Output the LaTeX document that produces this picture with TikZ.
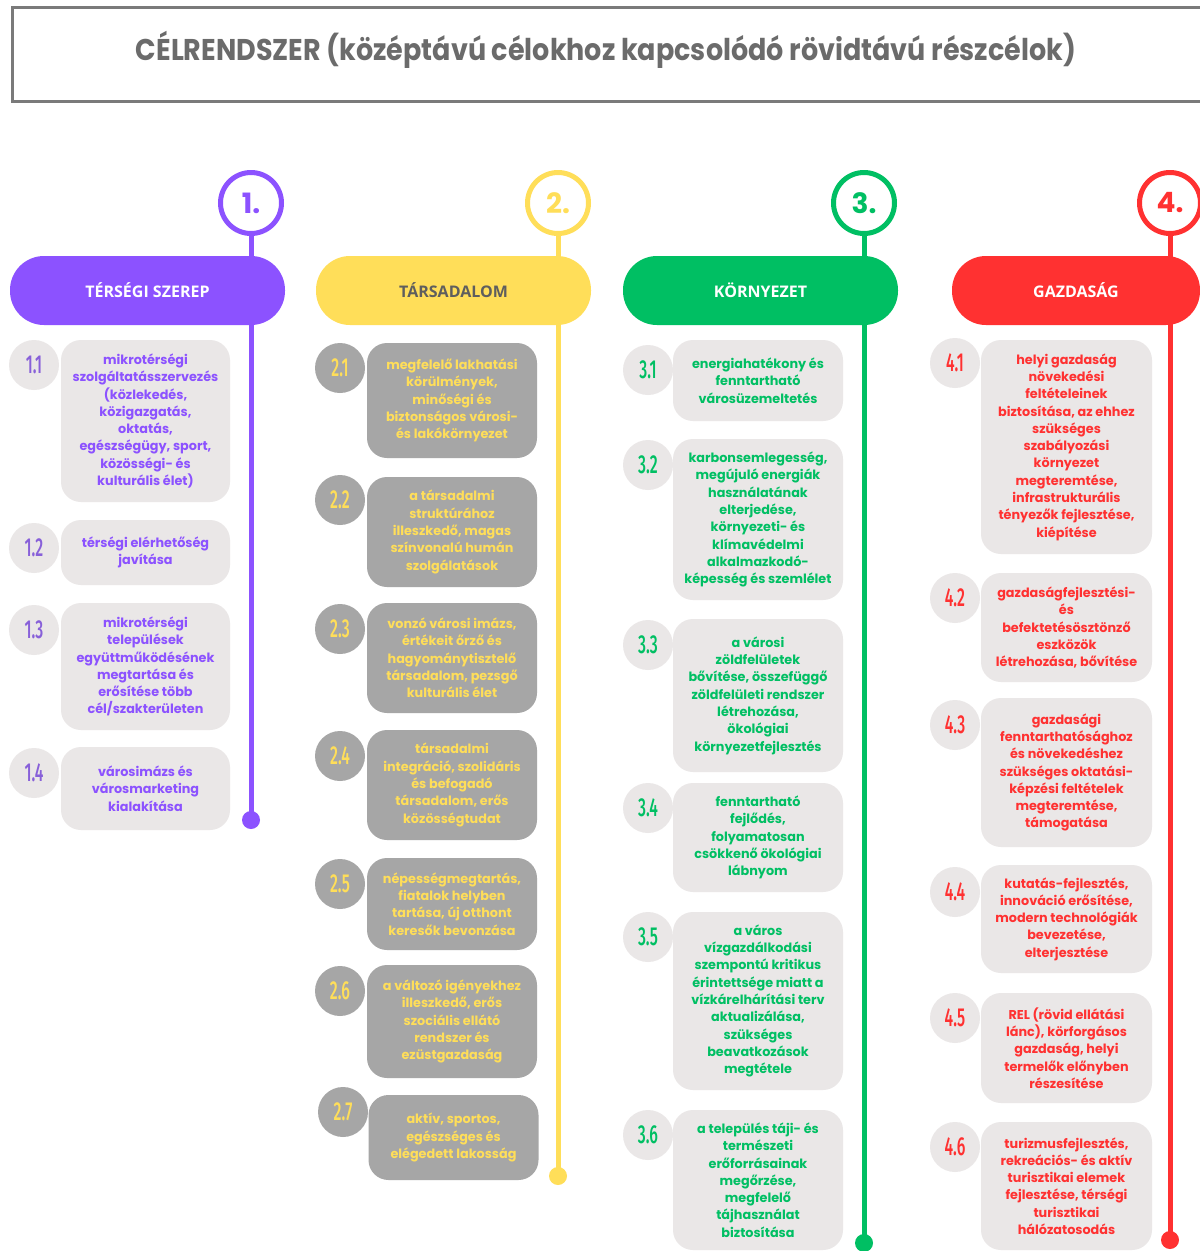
\documentclass[tikz,border=0pt]{standalone}
\usepackage{fontspec}
\setmainfont{Poppins}
\newfontfamily\numfont[FakeStretch=0.6, UprightFont=* Medium, BoldFont=* Medium]{Fira Sans}
\newfontfamily\headfont{Open Sans}
\newfontfamily\titlefont[FakeStretch=0.9]{Poppins}

\newlength{\du}
\setlength{\du}{1pt}

\definecolor{tpurple}{HTML}{8C52FF}
\definecolor{tyellow}{HTML}{FFDE59}
\definecolor{tgreen}{HTML}{00BF63}
\definecolor{tred}{HTML}{FF3131}
\definecolor{boxgray}{HTML}{EAE7E7}
\definecolor{darkbox}{HTML}{A6A6A6}
\definecolor{titlegray}{HTML}{6B6B6B}
\definecolor{headgray}{HTML}{5E5E5E}

\tikzset{
  ring/.style={circle, draw=#1, line width=5\du, fill=white, minimum size=61\du, inner sep=0pt, text=#1, font=\fontsize{28}{28}\selectfont\bfseries},
  pill/.style={rounded corners=34\du, fill=#1, minimum height=69\du, inner sep=0pt, font=\headfont\fontsize{16}{16}\selectfont\bfseries},
  enddot/.style={circle, fill=#1, minimum size=18\du, inner sep=0pt},
  timeline/.style={line width=5\du, draw=#1},
  numdisc/.style={circle, fill=boxgray, minimum size=50\du, inner sep=0pt, font=\numfont\fontsize{26}{26}\selectfont},
  goalbox/.style={rounded corners=20\du, fill=boxgray, inner sep=0pt, align=center, font=\fontsize{12.8}{17.3}\selectfont\bfseries},
  col1/.style={goalbox, text=tpurple, minimum width=169\du},
  col2/.style={goalbox, fill=darkbox, text=tyellow, minimum width=170\du},
  col3/.style={goalbox, text=tgreen, minimum width=170\du},
  col4/.style={goalbox, text=tred, minimum width=171\du},
}

\begin{document}
\begin{tikzpicture}[yscale=-1]
\clip (0\du,0\du) rectangle (1200\du,1251\du);
\fill[white] (0\du,0\du) rectangle (1200\du,1251\du);

% title
\node[draw=titlegray!90, line width=3\du, minimum width=1202\du, minimum height=94\du, inner sep=0pt] (title) at (613\du,54\du) {};
\node[text=titlegray, font=\titlefont\fontsize{30}{30}\selectfont\bfseries] (titletext) at (606\du,50\du)
  {CÉLRENDSZER (középtávú célokhoz kapcsolódó rövidtávú részcélok)};

% rings and end points
\node[ring=tpurple] (r1) at (251\du,203\du) {1.};
\node[ring=tyellow] (r2) at (558\du,203\du) {2.};
\node[ring=tgreen] (r3) at (864\du,203\du) {3.};
\node[ring=tred] (r4) at (1170\du,203\du) {4.};
\node[enddot=tpurple] (e1) at (251\du,820\du) {};
\node[enddot=tyellow] (e2) at (558\du,1176\du) {};
\node[enddot=tgreen] (e3) at (864\du,1243\du) {};
\node[enddot=tred] (e4) at (1170\du,1240\du) {};
\draw[timeline=tpurple] (r1.south) -- (e1.center);
\draw[timeline=tyellow] (r2.south) -- (e2.center);
\draw[timeline=tgreen] (r3.south) -- (e3.center);
\draw[timeline=tred] (r4.south) -- (e4.center);

% headings
\node[pill=tpurple, text=white, minimum width=275\du] (p1) at (147.5\du,290.5\du) {TÉRSÉGI SZEREP};
\node[pill=tyellow, text=headgray, minimum width=275\du] (p2) at (453.5\du,290.5\du) {TÁRSADALOM};
\node[pill=tgreen, text=white, minimum width=275\du] (p3) at (760.5\du,290.5\du) {KÖRNYEZET};
\node[pill=tred, text=white, minimum width=248\du] (p4) at (1076\du,290.5\du) {GAZDASÁG};

% 1. térségi szerep
\node[numdisc, text=tpurple!70!gray] (d11) at (34\du,365\du) {1.1};
\node[col1, minimum height=162\du] (b11) at (145.5\du,421\du)
  {mikrotérségi\\szolgáltatásszervezés\\(közlekedés,\\közigazgatás,\\oktatás,\\egészségügy, sport,\\közösségi- és\\kulturális élet)};
\node[numdisc, text=tpurple!70!gray] (d12) at (34\du,548\du) {1.2};
\node[col1, minimum height=65\du] (b12) at (145.5\du,552.5\du)
  {térségi elérhetőség\\javítása};
\node[numdisc, text=tpurple!70!gray] (d13) at (34\du,630\du) {1.3};
\node[col1, minimum height=127\du] (b13) at (145.5\du,666.5\du)
  {mikrotérségi\\települések\\együttműködésének\\megtartása és\\erősítése több\\cél/szakterületen};
\node[numdisc, text=tpurple!70!gray] (d14) at (34\du,773\du) {1.4};
\node[col1, minimum height=83\du] (b14) at (145.5\du,788.5\du)
  {városimázs és\\városmarketing\\kialakítása};

% 2. társadalom
\node[numdisc, fill=darkbox, text=tyellow] (d21) at (340\du,368\du) {2.1};
\node[col2, minimum height=115\du] (b21) at (452\du,400.5\du)
  {megfelelő lakhatási\\körülmények,\\minőségi és\\biztonságos városi-\\és lakókörnyezet};
\node[numdisc, fill=darkbox, text=tyellow] (d22) at (340\du,500\du) {2.2};
\node[col2, minimum height=110\du] (b22) at (452\du,532\du)
  {a társadalmi\\struktúrához\\illeszkedő, magas\\színvonalú humán\\szolgálatások};
\node[numdisc, fill=darkbox, text=tyellow] (d23) at (340\du,629\du) {2.3};
\node[col2, minimum height=110\du] (b23) at (452\du,658\du)
  {vonzó városi imázs,\\értékeit őrző és\\hagyománytisztelő\\társadalom, pezsgő\\kulturális élet};
\node[numdisc, fill=darkbox, text=tyellow] (d24) at (340\du,756\du) {2.4};
\node[col2, minimum height=110\du] (b24) at (452\du,785\du)
  {társadalmi\\integráció, szolidáris\\és befogadó\\társadalom, erős\\közösségtudat};
\node[numdisc, fill=darkbox, text=tyellow] (d25) at (340\du,884\du) {2.5};
\node[col2, minimum height=92\du] (b25) at (452\du,904\du)
  {népességmegtartás,\\fiatalok helyben\\tartása, új otthont\\keresők bevonzása};
\node[numdisc, fill=darkbox, text=tyellow] (d26) at (340\du,991\du) {2.6};
\node[col2, minimum height=113\du] (b26) at (452\du,1021.5\du)
  {a változó igényekhez\\illeszkedő, erős\\szociális ellátó\\rendszer és\\ezüstgazdaság};
\node[numdisc, fill=darkbox, text=tyellow] (d27) at (343\du,1112\du) {2.7};
\node[col2, minimum height=85\du] (b27) at (453.5\du,1137.5\du)
  {aktív, sportos,\\egészséges és\\elégedett lakosság};

% 3. környezet
\node[numdisc, text=tgreen] (d31) at (648\du,370\du) {3.1};
\node[col3, minimum height=81\du] (b31) at (758\du,380.5\du)
  {energiahatékony és\\fenntartható\\városüzemeltetés};
\node[numdisc, text=tgreen] (d32) at (648\du,465\du) {3.2};
\node[col3, minimum height=161\du] (b32) at (758\du,519.5\du)
  {karbonsemlegesség,\\megújuló energiák\\használatának\\elterjedése,\\környezeti- és\\klímavédelmi\\alkalmazkodó-\\képesség és szemlélet};
\node[numdisc, text=tgreen] (d33) at (648\du,645\du) {3.3};
\node[col3, minimum height=153\du] (b33) at (758\du,695.5\du)
  {a városi\\zöldfelületek\\bővítése, összefüggő\\zöldfelületi rendszer\\létrehozása,\\ökológiai\\környezetfejlesztés};
\node[numdisc, text=tgreen] (d34) at (648\du,808\du) {3.4};
\node[col3, minimum height=109\du] (b34) at (758\du,837.5\du)
  {fenntartható\\fejlődés,\\folyamatosan\\csökkenő ökológiai\\lábnyom};
\node[numdisc, text=tgreen] (d35) at (648\du,937\du) {3.5};
\node[col3, minimum height=178\du] (b35) at (758\du,1001\du)
  {a város\\vízgazdálkodási\\szempontú kritikus\\érintettsége miatt a\\vízkárelhárítási terv\\aktualizálása,\\szükséges\\beavatkozások\\megtétele};
\node[numdisc, text=tgreen] (d36) at (648\du,1135\du) {3.6};
\node[col3, minimum height=140\du] (b36) at (758\du,1180\du)
  {a település táji- és\\természeti\\erőforrásainak\\megőrzése,\\megfelelő\\tájhasználat\\biztosítása};

% 4. gazdaság
\node[numdisc, text=tred] (d41) at (955\du,363\du) {4.1};
\node[col4, minimum height=214\du] (b41) at (1066.5\du,447\du)
  {helyi gazdaság\\növekedési\\feltételeinek\\biztosítása, az ehhez\\szükséges\\szabályozási\\környezet\\megteremtése,\\infrastrukturális\\tényezők fejlesztése,\\kiépítése};
\node[numdisc, text=tred] (d42) at (955\du,598\du) {4.2};
\node[col4, minimum height=109\du] (b42) at (1066.5\du,627.5\du)
  {gazdaságfejlesztési-\\és\\befektetésösztönző\\eszközök\\létrehozása, bővítése};
\node[numdisc, text=tred] (d43) at (955\du,725\du) {4.3};
\node[col4, minimum height=149\du] (b43) at (1066.5\du,772.5\du)
  {gazdasági\\fenntarthatósághoz\\és növekedéshez\\szükséges oktatási-\\képzési feltételek\\megteremtése,\\támogatása};
\node[numdisc, text=tred] (d44) at (955\du,892\du) {4.4};
\node[col4, minimum height=108\du] (b44) at (1066.5\du,919\du)
  {kutatás-fejlesztés,\\innováció erősítése,\\modern technológiák\\bevezetése,\\elterjesztése};
\node[numdisc, text=tred] (d45) at (955\du,1018\du) {4.5};
\node[col4, minimum height=110\du] (b45) at (1066.5\du,1048\du)
  {REL (rövid ellátási\\lánc), körforgásos\\gazdaság, helyi\\termelők előnyben\\részesítése};
\node[numdisc, text=tred] (d46) at (955\du,1147\du) {4.6};
\node[col4, minimum height=128\du] (b46) at (1066.5\du,1186\du)
  {turizmusfejlesztés,\\rekreációs- és aktív\\turisztikai elemek\\fejlesztése, térségi\\turisztikai\\hálózatosodás};
\end{tikzpicture}
\end{document}
